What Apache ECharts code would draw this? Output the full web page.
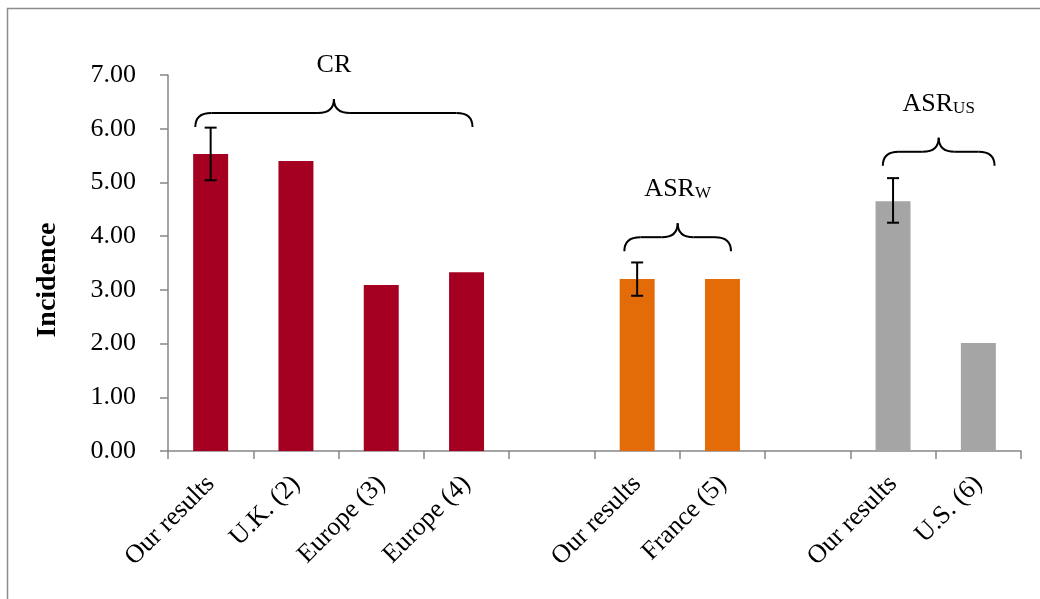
<!DOCTYPE html>
<html>
<head>
<meta charset="utf-8">
<script src="https://cdn.jsdelivr.net/npm/echarts@6/dist/echarts.min.js"></script>
<style>
  html, body { margin: 0; padding: 0; background: #fff; }
  #chart { width: 1040px; height: 599px; }
</style>
</head>
<body>
<div id="chart"></div>
<script>
// Incidence by source, grouped by rate type (CR, ASR world, ASR US)
const categories = ['Our results', 'U.K. (2)', 'Europe (3)', 'Europe (4)', '', 'Our results', 'France (5)', '', 'Our results', 'U.S. (6)'];
const incidence = [5.53, 5.40, 3.09, 3.33, null, 3.20, 3.20, null, 4.65, 2.01];
const barColors = ['#A50021', '#A50021', '#A50021', '#A50021', '#A50021', '#E36C09', '#E36C09', '#A5A5A5', '#A5A5A5', '#A5A5A5'];

// Confidence intervals: [category index, lower, upper]
const errorIndex = [0, 5, 8];
const errorLow = [5.04, 2.89, 4.25];
const errorHigh = [6.02, 3.51, 5.08];

// Group brackets: caption, subscript, category span, level of the bracket ends
const groupLabels = ['CR', 'ASR', 'ASR'];
const groupSubs = ['', 'W', 'US'];
const groupFrom = [-0.18, 4.85, 7.88];
const groupTo = [3.07, 6.10, 9.19];
const groupLevel = [6.03, 3.72, 5.31];

const yTicks = [0, 1, 2, 3, 4, 5, 6, 7];

const FONT = "'Liberation Serif', 'Times New Roman', serif";
const chart = echarts.init(document.getElementById('chart'));

const errorData = errorIndex.map((c, i) => [c, errorLow[i], errorHigh[i]]);

chart.setOption({
  animation: false,
  backgroundColor: '#fff',
  grid: { left: 168, right: 19, top: 75, bottom: 148 },
  xAxis: {
    type: 'category',
    data: categories,
    axisLine: { lineStyle: { color: '#868686', width: 1.5 } },
    axisTick: { show: true, length: 8, alignWithLabel: false, lineStyle: { color: '#868686', width: 1.5 } },
    axisLabel: { rotate: 45, interval: 0, margin: 29, color: '#000', fontFamily: FONT, fontSize: 26 }
  },
  yAxis: {
    type: 'value',
    min: yTicks[0],
    max: yTicks[yTicks.length - 1],
    interval: 1,
    splitLine: { show: false },
    axisLine: { show: true, lineStyle: { color: '#868686', width: 1.5 } },
    axisTick: { show: true, length: 8, lineStyle: { color: '#868686', width: 1.5 } },
    axisLabel: { margin: 32, color: '#000', fontFamily: FONT, fontSize: 26, formatter: v => v.toFixed(2) }
  },
  series: [
    {
      type: 'bar',
      barWidth: '41%',
      data: incidence.map((v, i) => ({ value: v, itemStyle: { color: barColors[i] } }))
    },
    {
      type: 'custom',
      data: errorData,
      z: 5,
      renderItem: function (params, api) {
        const c = api.value(0);
        const lo = api.coord([c, api.value(1)]);
        const hi = api.coord([c, api.value(2)]);
        const half = 6;
        const style = { stroke: '#000', lineWidth: 2 };
        return {
          type: 'group',
          children: [
            { type: 'line', shape: { x1: hi[0], y1: hi[1], x2: lo[0], y2: lo[1] }, style: style },
            { type: 'line', shape: { x1: hi[0] - half, y1: hi[1], x2: hi[0] + half, y2: hi[1] }, style: style },
            { type: 'line', shape: { x1: lo[0] - half, y1: lo[1], x2: lo[0] + half, y2: lo[1] }, style: style }
          ]
        };
      }
    }
  ]
});

// Brackets and captions above each group, placed through the axes
const p0 = chart.convertToPixel({ xAxisIndex: 0 }, 0);
const band = chart.convertToPixel({ xAxisIndex: 0 }, 1) - p0;
const xAt = c => p0 + c * band;
const yAt = v => chart.convertToPixel({ yAxisIndex: 0 }, v);

const graphics = [
  {
    type: 'rect',
    silent: true,
    shape: { x: 7.5, y: 8.5, width: 1200, height: 800 },
    style: { fill: 'none', stroke: '#8c8c8c', lineWidth: 1.5 }
  },
  {
    type: 'text',
    silent: true,
    x: 48,
    y: 280,
    rotation: Math.PI / 2,
    style: {
      text: 'Incidence',
      align: 'center',
      verticalAlign: 'middle',
      fontFamily: FONT,
      fontSize: 28,
      fontWeight: 'bold',
      fill: '#000'
    }
  }
];

const braceStyle = { fill: 'none', stroke: '#000', lineWidth: 2 };
const curve = (x1, y1, cx, cy, x2, y2) => ({
  type: 'bezierCurve', silent: true,
  shape: { x1: x1, y1: y1, cpx1: cx, cpy1: cy, x2: x2, y2: y2 },
  style: braceStyle
});
const seg = (x1, y1, x2, y2) => ({
  type: 'line', silent: true,
  shape: { x1: x1, y1: y1, x2: x2, y2: y2 },
  style: braceStyle
});

groupLabels.forEach((lab, i) => {
  const xL = xAt(groupFrom[i]);
  const xR = xAt(groupTo[i]);
  const xM = (xL + xR) / 2;
  const yB = yAt(groupLevel[i]);
  const yH = yB - 14;
  const yT = yB - 28;
  const r = 16;
  graphics.push(
    curve(xL, yB, xL, yH, xL + r, yH),
    seg(xL + r, yH, xM - r, yH),
    curve(xM - r, yH, xM, yH, xM, yT),
    curve(xM, yT, xM, yH, xM + r, yH),
    seg(xM + r, yH, xR - r, yH),
    curve(xR - r, yH, xR, yH, xR, yB)
  );
  const txt = groupSubs[i] ? '{m|' + lab + '}{s|' + groupSubs[i] + '}' : '{m|' + lab + '}';
  graphics.push({
    type: 'text',
    silent: true,
    x: xM,
    y: yT - 19,
    style: {
      text: txt,
      align: 'center',
      verticalAlign: 'bottom',
      rich: {
        m: { fontFamily: FONT, fontSize: 26, fill: '#000', lineHeight: 30 },
        s: { fontFamily: FONT, fontSize: 17, fill: '#000', lineHeight: 30, padding: [9, 0, 0, 0] }
      }
    }
  });
});

chart.setOption({ graphic: graphics });
</script>
</body>
</html>
